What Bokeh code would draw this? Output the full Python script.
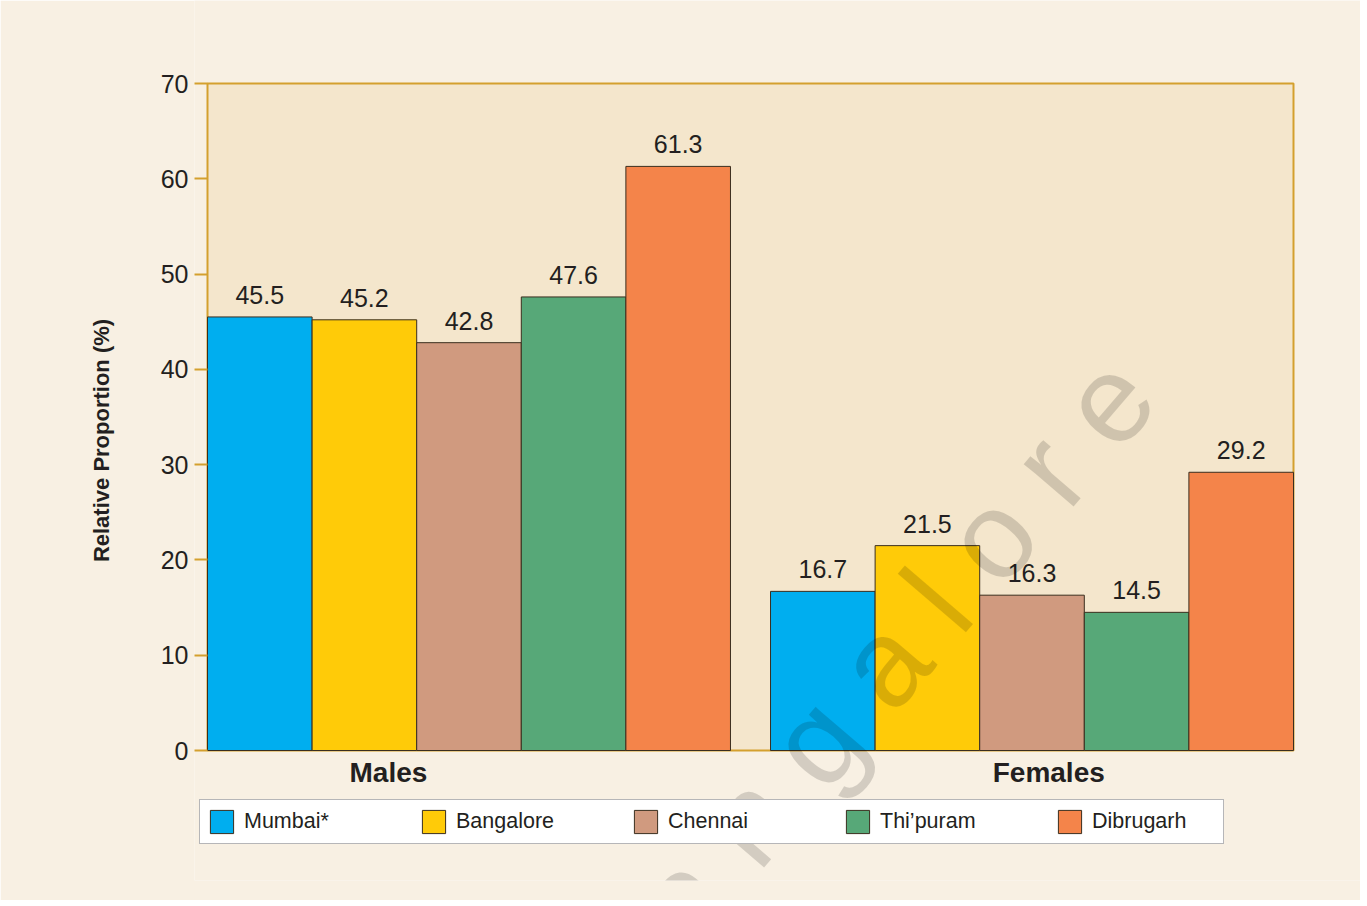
from bokeh.plotting import figure
from bokeh.models import Range1d, Legend, LegendItem, Label, FixedTicker, ColumnDataSource
from bokeh.core.properties import value
from bokeh.embed import file_html
from bokeh.resources import INLINE

groups = ["Males", "Females"]
cities = ["Mumbai*", "Bangalore", "Chennai", "Thi\u2019puram", "Dibrugarh"]
males = [45.5, 45.2, 42.8, 47.6, 61.3]
females = [16.7, 21.5, 16.3, 14.5, 29.2]
colors = ["#00aeef", "#ffcb08", "#d09a7f", "#57a878", "#f4844a"]
y_ticks = [0, 10, 20, 30, 40, 50, 60, 70]
Y_MAX = 70

FONT = "Liberation Sans"
TXT = "#231f20"
GOLD = "#d4a02e"
GAP = 0.383  # gap between the two groups, in bar widths

n = len(cities)
x_max = 2 * n + GAP

W, H = 1360, 900
LEFT = 194            # left panel width (frame starts here)
BOTTOM = 20           # bottom border
FB = H - BOTTOM       # frame bottom (screen)
PA_L, PA_R = 207, 1293  # plot-area screen edges
PA_T, PA_B = 83, 750
xpx = (PA_R - PA_L) / x_max
ypx = (PA_B - PA_T) / Y_MAX

x_range = Range1d(-(PA_L - LEFT) / xpx, x_max + (W - PA_R) / xpx)
y_range = Range1d(-(FB - PA_B) / ypx, Y_MAX + PA_T / ypx)

p = figure(width=W, height=H, output_backend="svg", toolbar_location=None,
           x_range=x_range, y_range=y_range,
           min_border_left=LEFT, min_border_right=0, min_border_top=0, min_border_bottom=BOTTOM,
           background_fill_color="#f8f0e3", border_fill_color="#f8f0e3")
p.grid.visible = False
p.outline_line_color = None
p.xaxis.visible = False

ya = p.yaxis[0]
ya.ticker = FixedTicker(ticks=y_ticks)
ya.axis_line_color = None
ya.major_tick_line_color = GOLD
ya.major_tick_line_width = 2
ya.major_tick_out = 0
ya.major_tick_in = PA_L - LEFT
ya.minor_tick_line_color = None
ya.major_label_text_font = FONT
ya.major_label_text_font_size = "25px"
ya.major_label_text_color = TXT
ya.major_label_standoff = 6
ya.axis_label = "Relative Proportion (%)"
ya.axis_label_text_font = FONT
ya.axis_label_text_font_size = "22px"
ya.axis_label_text_font_style = "bold"
ya.axis_label_text_color = TXT
ya.axis_label_standoff = 44

# plot area
p.quad(left=[0], right=[x_max], bottom=[0], top=[Y_MAX],
       fill_color="#f4e6cc", line_color=GOLD, line_width=2)

items = []
for i, city in enumerate(cities):
    xs = [i + 0.5, n + GAP + i + 0.5]
    vals = [males[i], females[i]]
    src = ColumnDataSource(dict(x=xs, top=vals, lab=[f"{v:.1f}" for v in vals]))
    r = p.vbar(x="x", top="top", width=1.0, bottom=0, source=src,
               fill_color=colors[i], line_color="#3a2e1e", line_width=1)
    p.text(x="x", y="top", text="lab", source=src, text_align="center",
           text_baseline="middle", y_offset=-22, text_font_size="25px",
           text_color=TXT, text_font=value(FONT))
    items.append(LegendItem(label=city, renderers=[r]))

# group labels
gsrc = ColumnDataSource(dict(x=[1.73, n + GAP + 2.66], y=[0, 0], t=groups))
p.text(x="x", y="y", text="t", source=gsrc, text_align="center", text_baseline="middle",
       y_offset=22, text_font=value(FONT), text_font_size="28px",
       text_font_style="bold", text_color=TXT)

legend = Legend(items=items, orientation="horizontal", location=(5, FB - 844),
                glyph_width=29, glyph_height=29, label_standoff=8, label_width=124,
                spacing=51, padding=7, margin=0,
                label_text_font=FONT, label_text_font_size="21.5px", label_text_color=TXT,
                border_line_color="#6d6e71", border_line_width=1.5,
                background_fill_color="white", background_fill_alpha=1.0)
p.add_layout(legend, "center")

# watermark
p.add_layout(Label(x=6.20, y=5.9, text="B a n g a l o r e", angle=49.4, angle_units="deg",
                   text_font=FONT, text_font_size="124px", text_color="black",
                   text_alpha=0.15, text_align="center", text_baseline="alphabetic"))

open("out.html", "w").write(file_html(p, INLINE))
